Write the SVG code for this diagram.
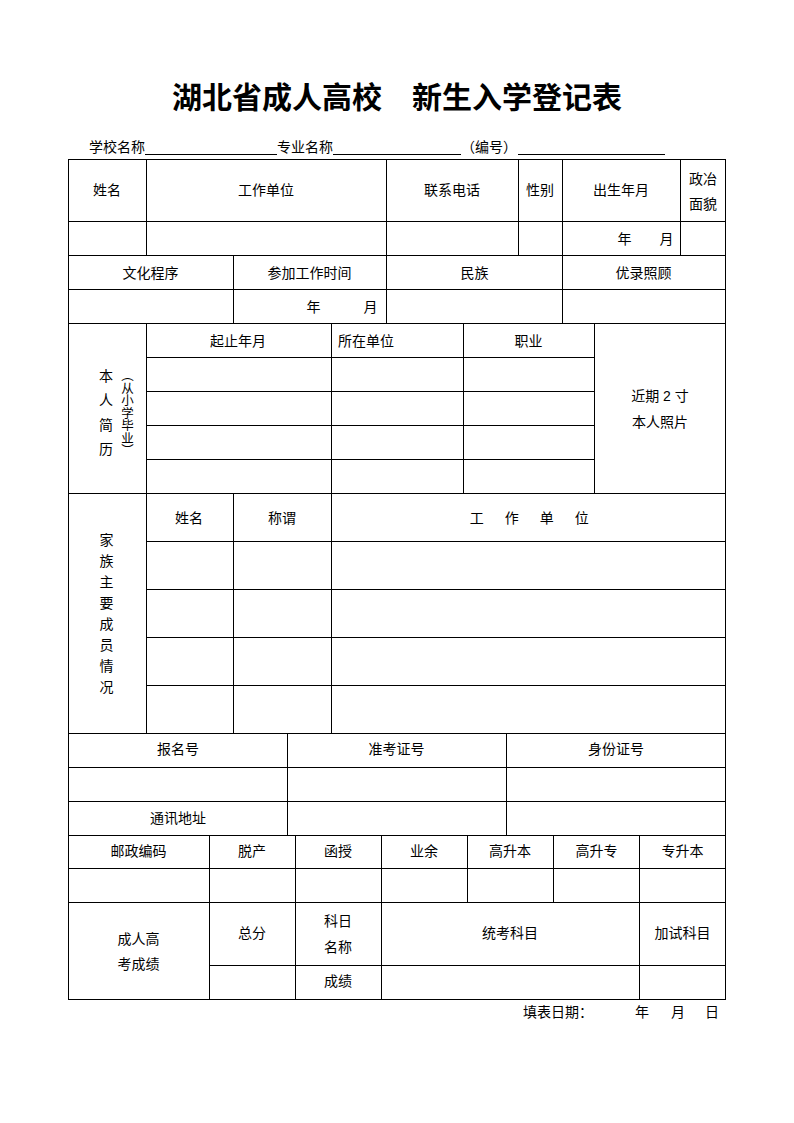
<svg xmlns="http://www.w3.org/2000/svg" width="794" height="1123" viewBox="0 0 794 1123">
<style>
.bg{fill:#ffffff}
.ln{stroke:#000000;stroke-width:1;fill:none;shape-rendering:crispEdges}
.t{font-family:"Liberation Sans","Noto Sans CJK SC",sans-serif;font-size:14px;fill:#000000}
.c{text-anchor:middle}
.title{font-family:"Liberation Serif","Noto Sans CJK SC",serif;font-size:30px;font-weight:bold;fill:#000000;text-anchor:middle}
.vt{font-family:"Liberation Sans","Noto Sans CJK SC",sans-serif;font-size:12.5px;fill:#000000;writing-mode:vertical-rl}
</style>
<rect class="bg" x="0" y="0" width="794" height="1123"/>

<text id="title" class="title" x="397" y="108">湖北省成人高校　新生入学登记表</text>

<g id="header-line">
<text class="t" x="89" y="152">学校名称</text>
<text class="t" x="277" y="152">专业名称</text>
<text class="t" x="461" y="152">（编号）</text>
<path class="ln" d="M145,154.5H277 M333,154.5H461 M518,154.5H665"/>
</g>

<g id="grid">
<rect class="ln" x="68.5" y="159.5" width="657" height="839.5"/>
<path class="ln" d="
M68,221.5H726 M68,255.5H726 M68,289.5H726 M68,323.5H726
M146,357.5H595 M146,391.5H595 M146,425.5H595 M146,459.5H595
M68,493.5H726
M146,541.5H726 M146,589.5H726 M146,637.5H726 M146,685.5H726
M68,733.5H726 M68,767.5H726 M68,801.5H726 M68,835.5H726 M68,868.5H726 M68,902.5H726
M209,965.5H726
M146.5,159.5V255.5 M386.5,159.5V255.5 M518.5,159.5V255.5 M562.5,159.5V255.5 M680.5,159.5V255.5
M233.5,255.5V323.5 M386.5,255.5V323.5 M562.5,255.5V323.5
M146.5,323.5V733.5 M331.5,323.5V733.5 M463.5,323.5V493.5 M594.5,323.5V493.5
M233.5,493.5V733.5
M287.5,733.5V835.5 M506.5,733.5V835.5
M209.5,835.5V999 M295.5,835.5V999 M381.5,835.5V999 M467.5,835.5V902.5 M553.5,835.5V902.5 M639.5,835.5V999
"/>
</g>

<g id="row-basic">
<text class="t c" x="107" y="195">姓名</text>
<text class="t c" x="266" y="195">工作单位</text>
<text class="t c" x="452" y="195">联系电话</text>
<text class="t c" x="540" y="195">性别</text>
<text class="t c" x="621" y="195">出生年月</text>
<text class="t c" x="703" y="183.5">政冶</text>
<text class="t c" x="703" y="208.5">面貌</text>
<text class="t c" x="624.5" y="243.5">年</text>
<text class="t c" x="666.5" y="243.5">月</text>
</g>

<g id="row-education">
<text class="t c" x="150.5" y="277.5">文化程序</text>
<text class="t c" x="309.5" y="277.5">参加工作时间</text>
<text class="t c" x="474.5" y="277.5">民族</text>
<text class="t c" x="643.5" y="277.5">优录照顾</text>
<text class="t c" x="313.5" y="311.5">年</text>
<text class="t c" x="370.5" y="311.5">月</text>
</g>

<g id="resume">
<text class="t c" x="106" y="381">本</text>
<text class="t c" x="106" y="405">人</text>
<text class="t c" x="106" y="429.5">简</text>
<text class="t c" x="106" y="454">历</text>
<text class="vt" x="126" y="369">（从小学毕业）</text>
<text class="t c" x="238" y="345.5">起止年月</text>
<text class="t" x="338" y="345.5">所在单位</text>
<text class="t c" x="528.5" y="345.5">职业</text>
<text class="t c" x="660" y="400.7">近期 2 寸</text>
<text class="t c" x="660" y="426.7">本人照片</text>
</g>

<g id="family">
<text class="t c" x="106.5" y="545">家</text>
<text class="t c" x="106.5" y="566">族</text>
<text class="t c" x="106.5" y="587">主</text>
<text class="t c" x="106.5" y="608">要</text>
<text class="t c" x="106.5" y="629">成</text>
<text class="t c" x="106.5" y="650">员</text>
<text class="t c" x="106.5" y="671">情</text>
<text class="t c" x="106.5" y="692">况</text>
<text class="t c" x="189" y="522.5">姓名</text>
<text class="t c" x="282" y="522.5">称谓</text>
<text class="t c" x="531" y="522.5" style="letter-spacing:3.5px">工　作　单　位</text>
</g>

<g id="ids">
<text class="t c" x="178" y="754">报名号</text>
<text class="t c" x="396.5" y="754">准考证号</text>
<text class="t c" x="616" y="754">身份证号</text>
<text class="t c" x="178" y="822.5">通讯地址</text>
</g>

<g id="study-mode">
<text class="t c" x="138.5" y="856">邮政编码</text>
<text class="t c" x="252" y="856">脱产</text>
<text class="t c" x="338" y="856">函授</text>
<text class="t c" x="424" y="856">业余</text>
<text class="t c" x="510" y="856">高升本</text>
<text class="t c" x="596.5" y="856">高升专</text>
<text class="t c" x="682.5" y="856">专升本</text>
</g>

<g id="scores">
<text class="t c" x="138.5" y="943.5">成人高</text>
<text class="t c" x="138.5" y="968.5">考成绩</text>
<text class="t c" x="252" y="937.7">总分</text>
<text class="t c" x="338" y="926">科日</text>
<text class="t c" x="338" y="951.7">名称</text>
<text class="t c" x="338" y="985.7">成绩</text>
<text class="t c" x="510" y="937.7">统考科目</text>
<text class="t c" x="682.5" y="937.7">加试科目</text>
</g>

<g id="date">
<text class="t" x="523" y="1017">填表日期：</text>
<text class="t c" x="642" y="1017">年</text>
<text class="t c" x="678" y="1017">月</text>
<text class="t c" x="712" y="1017">日</text>
</g>
</svg>
